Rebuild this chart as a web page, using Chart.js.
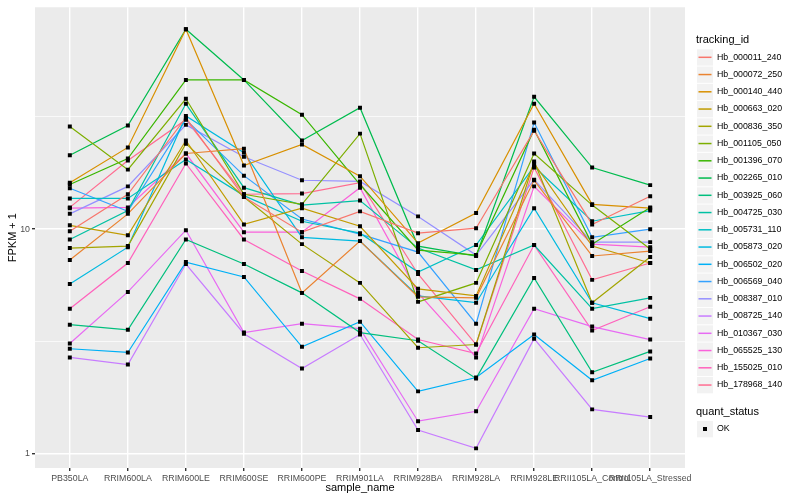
<!DOCTYPE html>
<html>
<head>
<meta charset="utf-8">
<script src="https://cdn.jsdelivr.net/npm/chart.js@4/dist/chart.umd.min.js"></script>
<style>
  html, body { margin: 0; padding: 0; background: #fff; }
</style>
</head>
<body>
<canvas id="c" width="800" height="500"></canvas>
<script>
// sample_name on the x axis
const categories = ["PB350LA", "RRIM600LA", "RRIM600LE", "RRIM600SE", "RRIM600PE", "RRIM901LA",
  "RRIM928BA", "RRIM928LA", "RRIM928LE", "RRII105LA_Control", "RRII105LA_Stressed"]

// FPKM + 1, one array per tracking_id
const hb_000011_240 = [9.8, 14.3, 31.3, 13.9, 9.7, 12.0, 9.6, 10.1, 27.4, 10.5, 14.0]
const hb_000072_250 = [7.29, 11.7, 21.7, 22.8, 5.21, 8.85, 5.0, 4.95, 16.5, 7.6, 7.99]
const hb_000140_440 = [16.1, 23.1, 77.5, 19.2, 23.8, 17.2, 8.67, 11.8, 36.1, 12.9, 12.4]
const hb_000663_020 = [10.4, 9.4, 24.8, 10.5, 12.4, 10.3, 5.43, 5.05, 19.6, 8.41, 7.07]
const hb_000836_350 = [8.24, 8.41, 24.0, 13.9, 8.58, 5.77, 2.97, 3.07, 20.0, 4.71, 7.52]
const hb_001105_050 = [28.6, 18.4, 38.0, 14.3, 12.9, 26.6, 4.75, 5.77, 21.7, 12.8, 8.16]
const hb_001396_070 = [15.8, 20.6, 46.1, 46.1, 32.3, 15.8, 8.07, 7.67, 27.7, 8.58, 12.5]
const hb_002265_010 = [21.3, 28.9, 77.5, 46.1, 24.8, 34.7, 8.41, 7.6, 38.8, 18.8, 15.7]
const hb_003925_060 = [3.76, 3.57, 9.0, 7.0, 5.21, 3.47, 3.19, 2.17, 6.07, 2.31, 2.86]
const hb_004725_030 = [9.0, 12.1, 36.1, 15.3, 12.8, 13.4, 8.24, 6.59, 8.5, 4.43, 4.95]
const hb_005731_110 = [13.7, 13.7, 20.4, 14.1, 10.85, 9.6, 6.45, 8.5, 19.0, 10.85, 12.1]
const hb_005873_020 = [5.71, 8.32, 31.9, 21.9, 9.2, 8.85, 5.05, 4.71, 12.4, 4.71, 4.0]
const hb_006502_020 = [2.94, 2.83, 7.14, 6.13, 3.0, 3.88, 1.9, 2.19, 3.4, 2.13, 2.66]
const hb_006569_040 = [15.2, 12.0, 30.7, 17.3, 11.1, 9.5, 7.91, 3.8, 29.8, 9.2, 10.0]
const hb_008387_010 = [11.7, 15.5, 29.1, 21.0, 16.5, 16.3, 11.4, 7.67, 16.6, 8.76, 8.76]
const hb_008725_140 = [2.69, 2.5, 7.0, 3.43, 2.4, 3.4, 1.28, 1.06, 3.26, 1.58, 1.46]
const hb_010367_030 = [3.1, 5.26, 9.9, 3.47, 3.8, 3.61, 1.4, 1.55, 4.43, 3.69, 3.23]
const hb_065525_130 = [12.4, 12.5, 21.7, 9.7, 9.7, 15.3, 5.21, 2.69, 15.5, 8.58, 8.32]
const hb_155025_010 = [4.43, 7.07, 19.6, 9.0, 6.52, 4.9, 3.23, 2.8, 8.5, 3.54, 4.52]
const hb_178968_140 = [12.5, 20.2, 30.7, 14.3, 14.4, 16.1, 6.32, 3.07, 18.8, 5.95, 7.07]

const trackingIds = ["Hb_000011_240", "Hb_000072_250", "Hb_000140_440", "Hb_000663_020", "Hb_000836_350",
  "Hb_001105_050", "Hb_001396_070", "Hb_002265_010", "Hb_003925_060", "Hb_004725_030",
  "Hb_005731_110", "Hb_005873_020", "Hb_006502_020", "Hb_006569_040", "Hb_008387_010",
  "Hb_008725_140", "Hb_010367_030", "Hb_065525_130", "Hb_155025_010", "Hb_178968_140"]
const seriesValues = [hb_000011_240, hb_000072_250, hb_000140_440, hb_000663_020, hb_000836_350,
  hb_001105_050, hb_001396_070, hb_002265_010, hb_003925_060, hb_004725_030,
  hb_005731_110, hb_005873_020, hb_006502_020, hb_006569_040, hb_008387_010,
  hb_008725_140, hb_010367_030, hb_065525_130, hb_155025_010, hb_178968_140]

// ggplot hue palette
const lineColors = ["#F8766D", "#EA8331", "#D89000", "#C09B00", "#A3A500", "#7CAE00", "#39B600",
  "#00BB4E", "#00BF7D", "#00C1A3", "#00BFC4", "#00BAE0", "#00B0F6", "#35A2FF", "#9590FF",
  "#C77CFF", "#E76BF3", "#FA62DB", "#FF62BC", "#FF6C91"]

const yMajorTicks = [1, 10]
const yMinorTicks = [3.1623, 31.623]
const statusLabels = ["OK"]

const FONT = "'Liberation Sans', Arial, sans-serif"

const lineSets = seriesValues.map((vals, k) => ({
  label: trackingIds[k],
  data: vals.map((v, i) => ({ x: i, y: v })),
  borderColor: lineColors[k],
  borderWidth: 1.2,
  pointRadius: 0,
  fill: false,
  tension: 0,
  order: 1
}))

// quant_status points, drawn on top of every line
const pointData = []
seriesValues.forEach(vals => vals.forEach((v, i) => pointData.push({ x: i, y: v })))
const pointSet = {
  label: statusLabels[0],
  data: pointData,
  showLine: false,
  pointStyle: "rect",
  pointRadius: 2.8,
  pointBorderWidth: 0,
  pointBackgroundColor: "#000",
  borderColor: "#000",
  order: -1
}

const isMajor = v => yMajorTicks.includes(v)

const panelBg = {
  id: "panelBg",
  beforeDraw(chart) {
    const { ctx, chartArea: a } = chart
    ctx.save()
    ctx.fillStyle = "#fff"
    ctx.fillRect(0, 0, chart.width, chart.height)
    ctx.fillStyle = "#EBEBEB"
    ctx.fillRect(a.left, a.top, a.right - a.left, a.bottom - a.top)
    ctx.restore()
  }
}

// ggplot style legend on the right
const sideLegend = {
  id: "sideLegend",
  afterDraw(chart) {
    const { ctx } = chart
    const x0 = 697, rowH = 17.25, y0 = 57.3
    ctx.save()
    ctx.textBaseline = "middle"
    ctx.fillStyle = "#000"
    ctx.font = "11px " + FONT
    ctx.fillText("tracking_id", 696, 40)
    trackingIds.forEach((id, k) => {
      const cy = y0 + k * rowH
      ctx.fillStyle = "#F2F2F2"
      ctx.fillRect(x0, cy - 8, 16, 16.3)
      ctx.strokeStyle = lineColors[k]
      ctx.lineWidth = 1.5
      ctx.beginPath()
      ctx.moveTo(x0 + 1.5, cy)
      ctx.lineTo(x0 + 14.5, cy)
      ctx.stroke()
      ctx.fillStyle = "#000"
      ctx.font = "8.8px " + FONT
      ctx.fillText(id, 717, cy)
    })
    ctx.font = "11px " + FONT
    ctx.fillText("quant_status", 696, 412)
    ctx.fillStyle = "#F2F2F2"
    ctx.fillRect(x0, 421, 16, 16.3)
    ctx.fillStyle = "#000"
    ctx.fillRect(x0 + 6, 427, 4, 4)
    ctx.font = "8.8px " + FONT
    ctx.fillText(statusLabels[0], 717, 429)
    ctx.restore()
  }
}

new Chart(document.getElementById("c"), {
  type: "line",
  data: { datasets: [pointSet, ...lineSets] },
  plugins: [panelBg, sideLegend],
  options: {
    responsive: false,
    animation: false,
    layout: { padding: { top: 0, right: 115, left: 0, bottom: 0 } },
    plugins: { legend: { display: false }, tooltip: { enabled: false } },
    scales: {
      x: {
        type: "linear",
        min: -0.6,
        max: categories.length - 0.4,
        afterBuildTicks: scale => { scale.ticks = categories.map((_, i) => ({ value: i })) },
        afterFit: scale => { scale.height = 32 },
        ticks: {
          autoSkip: false,
          maxRotation: 0,
          padding: 2,
          color: "#4D4D4D",
          font: { family: FONT, size: 8.8 },
          callback: v => categories[v]
        },
        grid: { color: "#fff", lineWidth: 1.4, tickLength: 3, tickColor: "#333" },
        border: { display: false },
        title: {
          display: true, text: "sample_name", color: "#000",
          font: { family: FONT, size: 11 }, padding: { top: 0, bottom: 5 }
        }
      },
      y: {
        type: "logarithmic",
        min: 0.867,
        max: 97,
        afterBuildTicks: scale => {
          scale.ticks = [...yMajorTicks, ...yMinorTicks].sort((a, b) => a - b).map(v => ({ value: v }))
        },
        afterFit: scale => { scale.width = 35 },
        ticks: {
          padding: 2,
          color: "#4D4D4D",
          font: { family: FONT, size: 8.8 },
          callback: v => isMajor(v) ? String(v) : ""
        },
        grid: {
          color: "#fff",
          lineWidth: ctx => ctx.tick && isMajor(ctx.tick.value) ? 1.4 : 0.7,
          tickLength: 3,
          tickColor: ctx => ctx.tick && isMajor(ctx.tick.value) ? "#333" : "rgba(0,0,0,0)"
        },
        border: { display: false },
        title: {
          display: true, text: "FPKM + 1", color: "#000",
          font: { family: FONT, size: 11 }, padding: { top: 6 }
        }
      }
    }
  }
})
</script>
</body>
</html>
